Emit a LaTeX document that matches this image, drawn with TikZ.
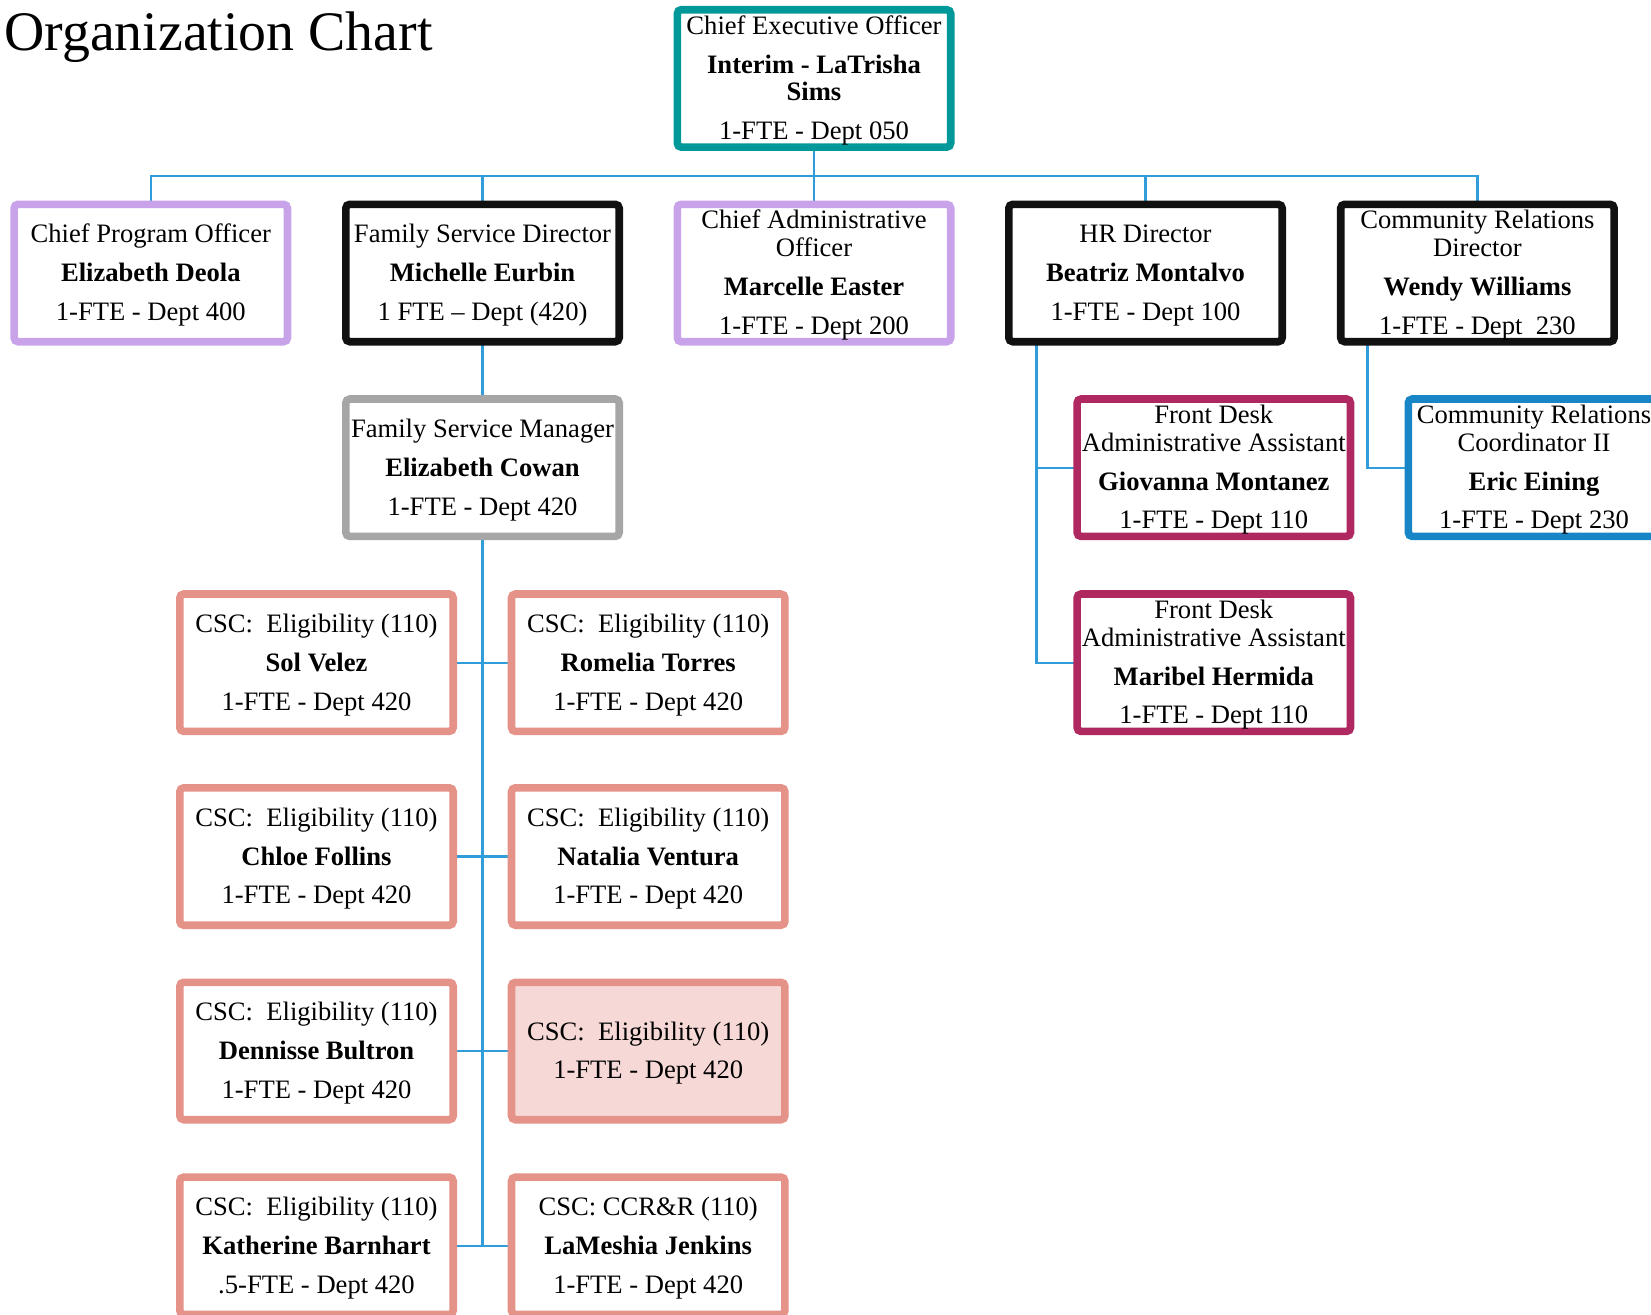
\documentclass[tikz,border=0pt]{standalone}
\usepackage{fontspec}
\setmainfont{Liberation Serif}
\usetikzlibrary{backgrounds}
\definecolor{cteal}{RGB}{0,152,152}
\definecolor{clav}{RGB}{201,163,233}
\definecolor{cblack}{RGB}{17,17,17}
\definecolor{cgray}{RGB}{166,166,166}
\definecolor{csalmon}{RGB}{229,146,137}
\definecolor{cmag}{RGB}{176,40,96}
\definecolor{cblue}{RGB}{24,134,198}
\definecolor{cpink}{RGB}{246,217,215}
\definecolor{clink}{RGB}{48,156,218}
\newcommand{\topstrut}{\rule{0pt}{11.4pt}}
\begin{document}
\begin{tikzpicture}[x=0.5pt,y=-0.5pt,
  box/.style={draw=#1, line width=3.8pt, rounded corners=2pt, fill=white,
    minimum width=136.7pt, minimum height=68.7pt, inner sep=0pt,
    align=center, font=\fontsize{13.3}{13.8}\selectfont},
  link/.style={draw=clink, line width=1.2pt}]
\useasboundingbox (0,0) rectangle (1651,1314);
\clip (0,0) rectangle (1651,1314);

\node[anchor=base west, inner sep=0pt, font=\fontsize{27.9}{30}\selectfont] (title) at (4,50) {Organization Chart};

\node[box=cteal] (ceo) at (814,78.4) {\topstrut Chief Executive Officer\\[5.6pt]\textbf{Interim - LaTrisha}\\\textbf{Sims}\\[5.6pt]1-FTE - Dept 050};

\node[box=clav] (cpo) at (150.8,273) {\topstrut Chief Program Officer\\[5.6pt]\textbf{Elizabeth Deola}\\[5.6pt]1-FTE - Dept 400};
\node[box=cblack] (fsd) at (482.5,273) {\topstrut Family Service Director\\[5.6pt]\textbf{Michelle Eurbin}\\[5.6pt]1 FTE -- Dept (420)};
\node[box=clav] (cao) at (814,273) {\topstrut Chief Administrative\\Officer\\[5.6pt]\textbf{Marcelle Easter}\\[5.6pt]1-FTE - Dept 200};
\node[box=cblack] (hr) at (1145.5,273) {\topstrut HR Director\\[5.6pt]\textbf{Beatriz Montalvo}\\[5.6pt]1-FTE - Dept 100};
\node[box=cblack] (crd) at (1477.4,273) {\topstrut Community Relations\\Director\\[5.6pt]\textbf{Wendy Williams}\\[5.6pt]1-FTE - Dept~~230};

\node[box=cgray] (fsm) at (482.5,467.7) {\topstrut Family Service Manager\\[5.6pt]\textbf{Elizabeth Cowan}\\[5.6pt]1-FTE - Dept 420};

\node[box=cmag] (fd1) at (1213.8,467.7) {\topstrut Front Desk\\Administrative Assistant\\[5.6pt]\textbf{Giovanna Montanez}\\[5.6pt]1-FTE - Dept 110};
\node[box=cmag] (fd2) at (1213.8,662.7) {\topstrut Front Desk\\Administrative Assistant\\[5.6pt]\textbf{Maribel Hermida}\\[5.6pt]1-FTE - Dept 110};
\node[box=cblue, minimum width=125.7pt] (crc) at (1534,467.7) {\topstrut Community Relations\\Coordinator II\\[5.6pt]\textbf{Eric Eining}\\[5.6pt]1-FTE - Dept 230};

\node[box=csalmon] (c1) at (316.5,662.7) {\topstrut CSC:~~Eligibility (110)\\[5.6pt]\textbf{Sol Velez}\\[5.6pt]1-FTE - Dept 420};
\node[box=csalmon] (c2) at (648.2,662.7) {\topstrut CSC:~~Eligibility (110)\\[5.6pt]\textbf{Romelia Torres}\\[5.6pt]1-FTE - Dept 420};
\node[box=csalmon] (c3) at (316.5,856.5) {\topstrut CSC:~~Eligibility (110)\\[5.6pt]\textbf{Chloe Follins}\\[5.6pt]1-FTE - Dept 420};
\node[box=csalmon] (c4) at (648.2,856.5) {\topstrut CSC:~~Eligibility (110)\\[5.6pt]\textbf{Natalia Ventura}\\[5.6pt]1-FTE - Dept 420};
\node[box=csalmon] (c5) at (316.5,1051) {\topstrut CSC:~~Eligibility (110)\\[5.6pt]\textbf{Dennisse Bultron}\\[5.6pt]1-FTE - Dept 420};
\node[box=csalmon, fill=cpink] (c6) at (648.2,1051) {\topstrut CSC:~~Eligibility (110)\\[5.6pt]1-FTE - Dept 420};
\node[box=csalmon] (c7) at (316.5,1245.8) {\topstrut CSC:~~Eligibility (110)\\[5.6pt]\textbf{Katherine Barnhart}\\[5.6pt].5-FTE - Dept 420};
\node[box=csalmon] (c8) at (648.2,1245.8) {\topstrut CSC: CCR\&R (110)\\[5.6pt]\textbf{LaMeshia Jenkins}\\[5.6pt]1-FTE - Dept 420};

\coordinate (busy) at (0,175.7);
\coordinate (hrx) at (1036.5,0);
\coordinate (crdx) at (1367.5,0);

\begin{scope}[on background layer]
\foreach \n in {cpo,fsd,cao,hr,crd}
  \draw[link] (ceo.center) -- (ceo.center |- busy) -| (\n.center);
\draw[link] (fsd.center) -- (fsm.center);
\draw[link] (fsm.center) -- (fsm.center |- c8.center);
\draw[link] (c1.center) -- (c2.center);
\draw[link] (c3.center) -- (c4.center);
\draw[link] (c5.center) -- (c6.center);
\draw[link] (c7.center) -- (c8.center);
\draw[link] (hr.center -| hrx) |- (fd2.center);
\draw[link] (fd1.center -| hrx) -- (fd1.center);
\draw[link] (crd.center -| crdx) |- (crc.center);
\end{scope}
\end{tikzpicture}
\end{document}
